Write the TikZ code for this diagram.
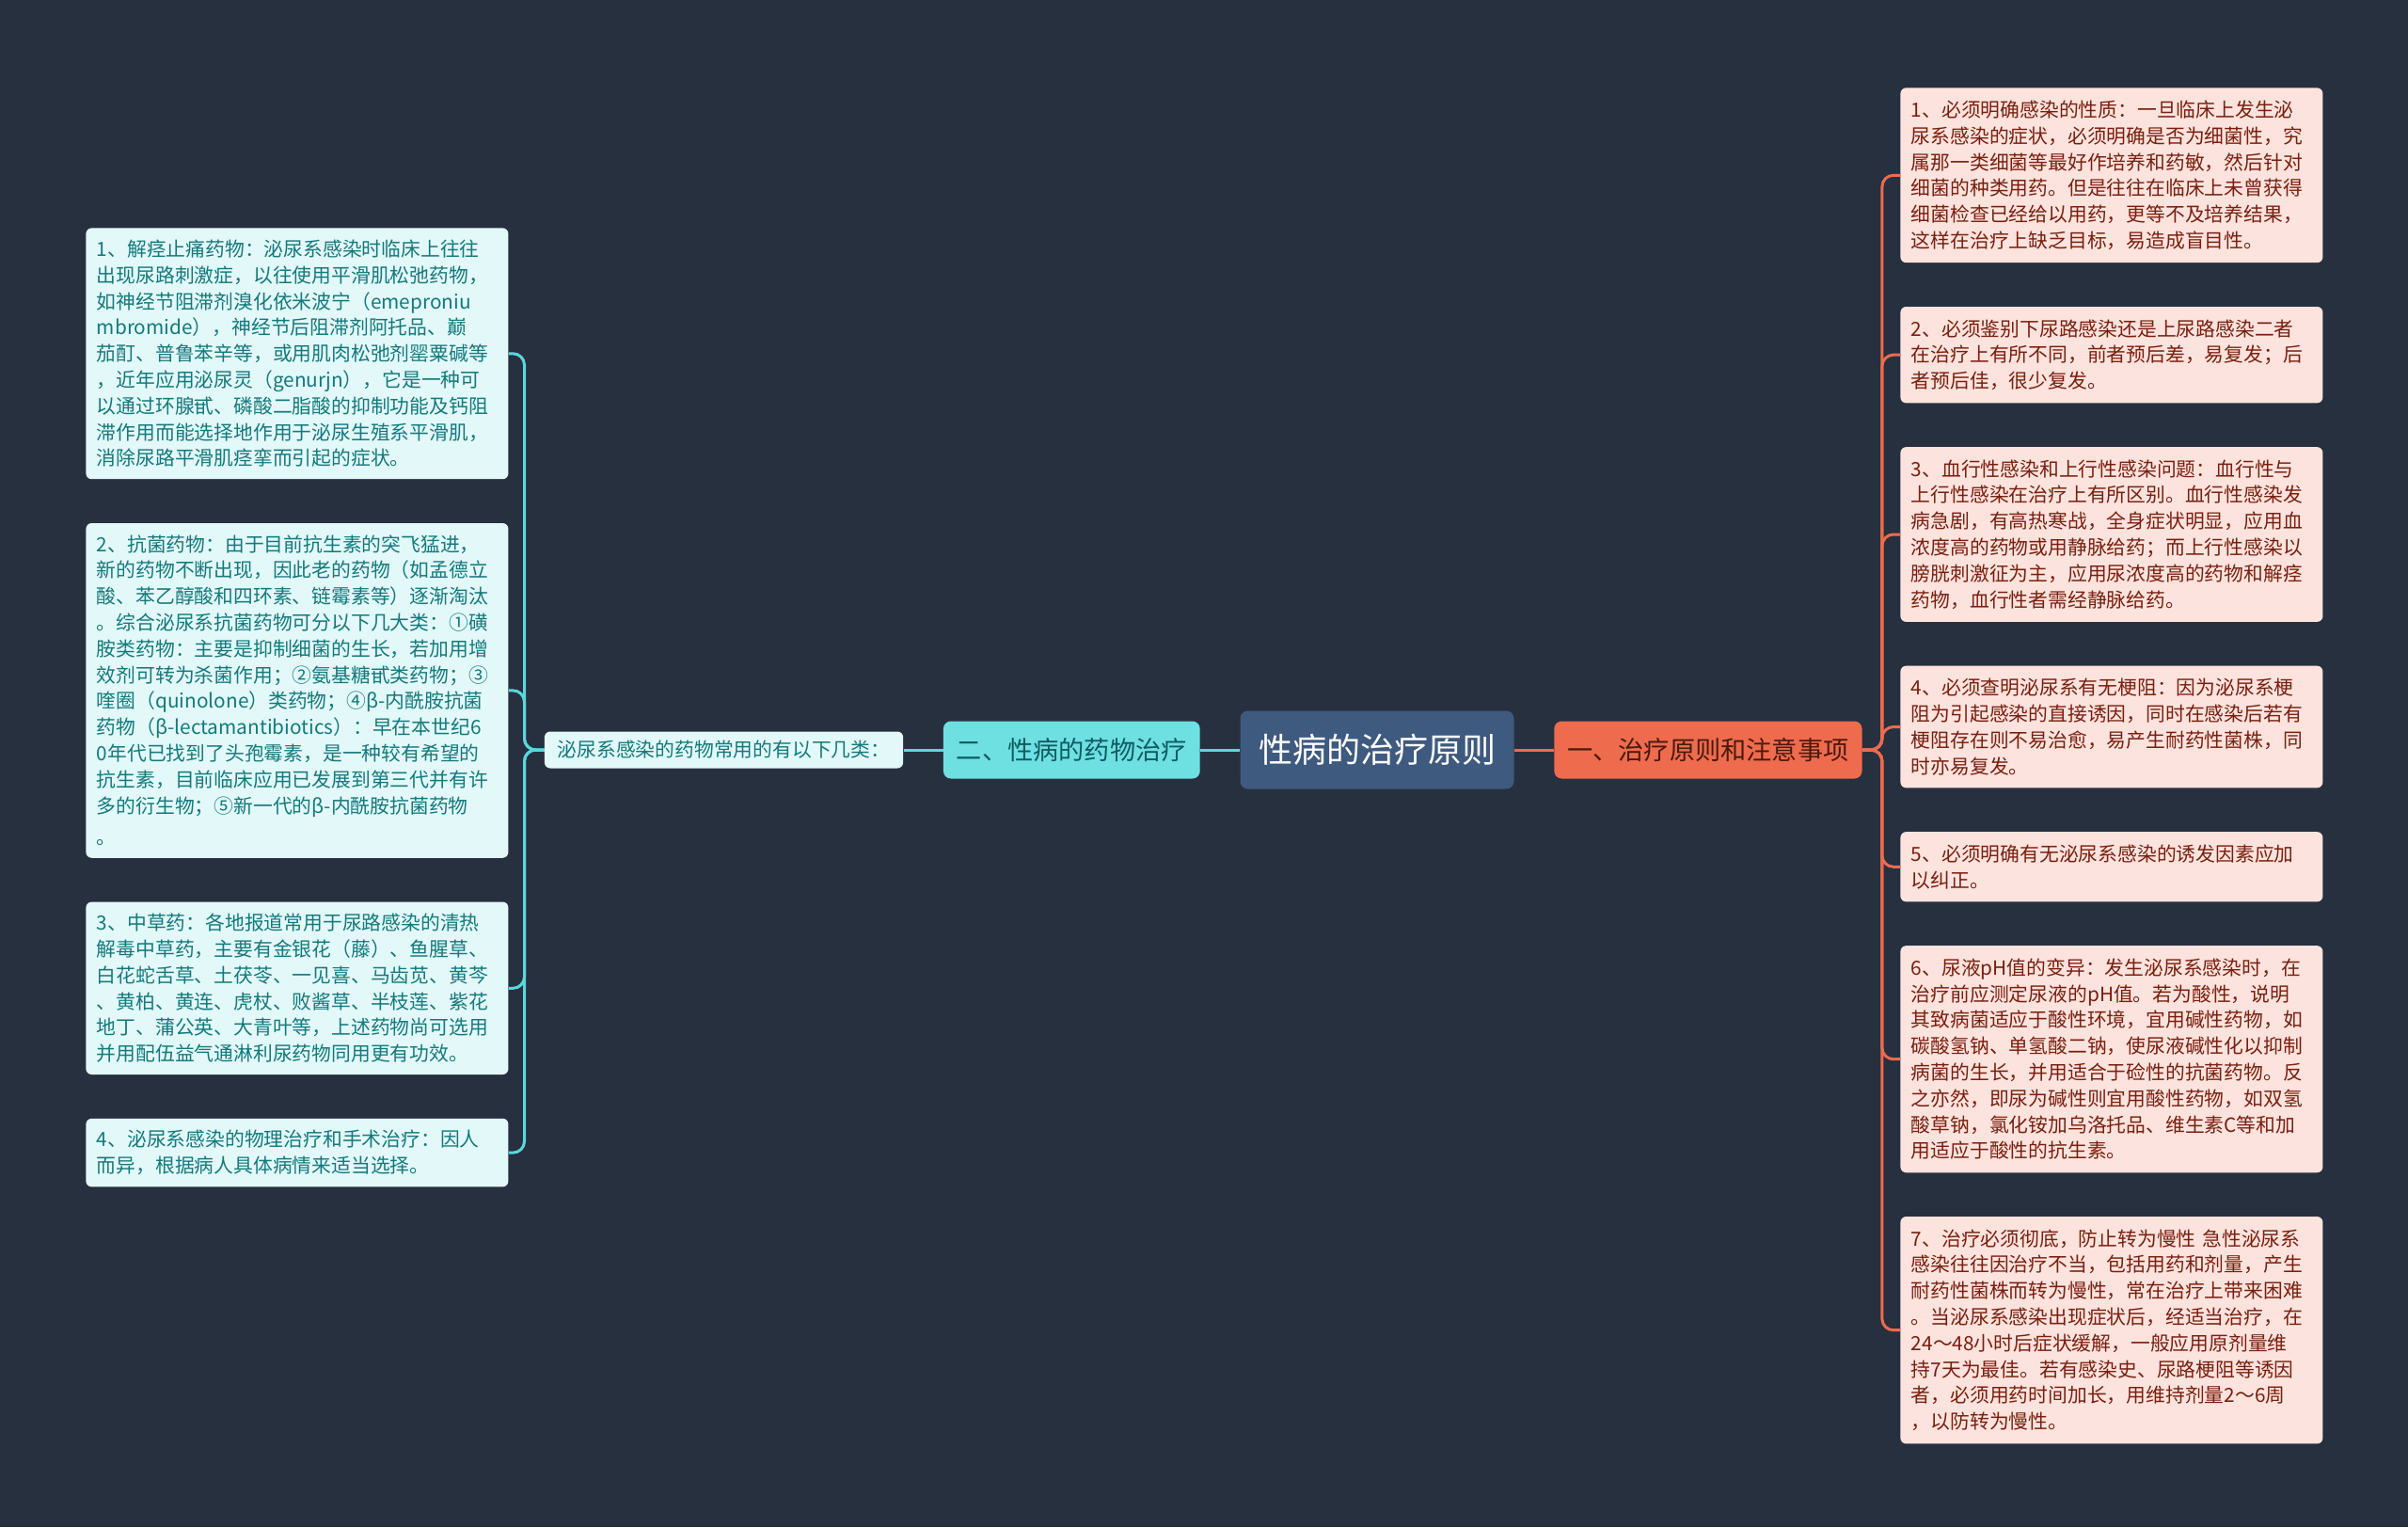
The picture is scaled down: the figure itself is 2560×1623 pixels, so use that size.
\documentclass[tikz,border=0pt]{standalone}
\usepackage{fontspec}
\newfontfamily\cjk{Noto Sans CJK SC}
\usepackage{tikz}
\usetikzlibrary{positioning}
\definecolor{BgNavy}{HTML}{27303F}
\definecolor{RootBlue}{HTML}{3E5A7F}
\definecolor{RuleRed}{HTML}{EE6B4D}
\definecolor{RuleText}{HTML}{4A1A0E}
\definecolor{RuleLeaf}{HTML}{FCE3DD}
\definecolor{RuleLeafText}{HTML}{7A1F10}
\definecolor{DrugCyan}{HTML}{6EE0E2}
\definecolor{DrugText}{HTML}{0E5C62}
\definecolor{DrugLeaf}{HTML}{E3F8F9}
\definecolor{DrugLeafText}{HTML}{137A7C}
\definecolor{DrugLine}{HTML}{5BD6DC}

\begin{document}
\begin{tikzpicture}[x=0.5pt,y=-0.5pt,node distance=21pt]
\tikzstyle{rootbox}=[fill=RootBlue,rounded corners=4pt,text=white,font={\cjk\fontsize{18pt}{22pt}\selectfont},minimum width=145.5pt,minimum height=41.5pt]
\tikzstyle{rulebox}=[fill=RuleRed,rounded corners=4pt,text=RuleText,font={\cjk\fontsize{13.6pt}{16pt}\selectfont},inner xsep=7pt,minimum height=30.5pt]
\tikzstyle{drugbox}=[fill=DrugCyan,rounded corners=4pt,text=DrugText,font={\cjk\fontsize{13.6pt}{16pt}\selectfont},inner xsep=7pt,minimum height=30.5pt]
\tikzstyle{kindbox}=[fill=DrugLeaf,rounded corners=3pt,text=DrugLeafText,font={\cjk\fontsize{10.4pt}{13.9pt}\selectfont},inner xsep=6.9pt,minimum height=19.5pt]
\tikzstyle{rleaf}=[fill=RuleLeaf,rounded corners=3pt,text=RuleLeafText,font={\cjk\fontsize{10.4pt}{13.9pt}\selectfont},align=left,text width=213pt,inner xsep=5.75pt,inner ysep=6.75pt]
\tikzstyle{lleaf}=[fill=DrugLeaf,rounded corners=3pt,text=DrugLeafText,font={\cjk\fontsize{10.4pt}{13.9pt}\selectfont},align=left,text width=213pt,inner xsep=5.75pt,inner ysep=6.25pt]
\tikzstyle{rline}=[draw=RuleRed,line width=1.5pt,rounded corners=6pt]
\tikzstyle{lline}=[draw=DrugLine,line width=1.5pt,rounded corners=6pt]
\fill[BgNavy] (0,0) rectangle (2560,1623);
\useasboundingbox (0,0) rectangle (2560,1623);
\node[rootbox] (root) at (1464,797) {性病的治疗原则};
\node[rulebox,right=21pt of root] (rules) {一、治疗原则和注意事项};
\node[drugbox,left=21pt of root] (drugs) {二、性病的药物治疗};
\node[kindbox,left=21pt of drugs] (kinds) {泌尿系感染的药物常用的有以下几类：};
\node[rleaf,anchor=north west] (r1) at (2020,93) {1、必须明确感染的性质：一旦临床上发生泌\\尿系感染的症状，必须明确是否为细菌性，究\\属那一类细菌等最好作培养和药敏，然后针对\\细菌的种类用药。但是往往在临床上未曾获得\\细菌检查已经给以用药，更等不及培养结果，\\这样在治疗上缺乏目标，易造成盲目性。};
\node[rleaf,below=23pt of r1] (r2) {2、必须鉴别下尿路感染还是上尿路感染二者\\在治疗上有所不同，前者预后差，易复发；后\\者预后佳，很少复发。};
\node[rleaf,below=23pt of r2] (r3) {3、血行性感染和上行性感染问题：血行性与\\上行性感染在治疗上有所区别。血行性感染发\\病急剧，有高热寒战，全身症状明显，应用血\\浓度高的药物或用静脉给药；而上行性感染以\\膀胱刺激征为主，应用尿浓度高的药物和解痉\\药物，血行性者需经静脉给药。};
\node[rleaf,below=23pt of r3] (r4) {4、必须查明泌尿系有无梗阻：因为泌尿系梗\\阻为引起感染的直接诱因，同时在感染后若有\\梗阻存在则不易治愈，易产生耐药性菌株，同\\时亦易复发。};
\node[rleaf,below=23pt of r4] (r5) {5、必须明确有无泌尿系感染的诱发因素应加\\以纠正。};
\node[rleaf,below=23pt of r5] (r6) {6、尿液pH值的变异：发生泌尿系感染时，在\\治疗前应测定尿液的pH值。若为酸性，说明\\其致病菌适应于酸性环境，宜用碱性药物，如\\碳酸氢钠、单氢酸二钠，使尿液碱性化以抑制\\病菌的生长，并用适合于硷性的抗菌药物。反\\之亦然，即尿为碱性则宜用酸性药物，如双氢\\酸草钠，氯化铵加乌洛托品、维生素C等和加\\用适应于酸性的抗生素。};
\node[rleaf,below=23pt of r6] (r7) {7、治疗必须彻底，防止转为慢性 急性泌尿系\\感染往往因治疗不当，包括用药和剂量，产生\\耐药性菌株而转为慢性，常在治疗上带来困难\\。当泌尿系感染出现症状后，经适当治疗，在\\24～48小时后症状缓解，一般应用原剂量维\\持7天为最佳。若有感染史、尿路梗阻等诱因\\者，必须用药时间加长，用维持剂量2～6周\\，以防转为慢性。};
\node[lleaf,anchor=north west] (d1) at (91,242) {1、解痉止痛药物：泌尿系感染时临床上往往\\出现尿路刺激症，以往使用平滑肌松弛药物，\\如神经节阻滞剂溴化依米波宁（emeproniu\\mbromide），神经节后阻滞剂阿托品、巅\\茄酊、普鲁苯辛等，或用肌肉松弛剂罂粟碱等\\，近年应用泌尿灵（genurjn），它是一种可\\以通过环腺甙、磷酸二脂酸的抑制功能及钙阻\\滞作用而能选择地作用于泌尿生殖系平滑肌，\\消除尿路平滑肌痉挛而引起的症状。};
\node[lleaf,below=23pt of d1] (d2) {2、抗菌药物：由于目前抗生素的突飞猛进，\\新的药物不断出现，因此老的药物（如孟德立\\酸、苯乙醇酸和四环素、链霉素等）逐渐淘汰\\。综合泌尿系抗菌药物可分以下几大类：①磺\\胺类药物：主要是抑制细菌的生长，若加用增\\效剂可转为杀菌作用；②氨基糖甙类药物；③\\喹圈（quinolone）类药物；④β-内酰胺抗菌\\药物（β-lectamantibiotics）：早在本世纪6\\0年代已找到了头孢霉素，是一种较有希望的\\抗生素，目前临床应用已发展到第三代并有许\\多的衍生物；⑤新一代的β-内酰胺抗菌药物\\[3pt]。};
\node[lleaf,below=23pt of d2] (d3) {3、中草药：各地报道常用于尿路感染的清热\\解毒中草药，主要有金银花（藤）、鱼腥草、\\白花蛇舌草、土茯苓、一见喜、马齿苋、黄芩\\、黄柏、黄连、虎杖、败酱草、半枝莲、紫花\\地丁、蒲公英、大青叶等，上述药物尚可选用\\并用配伍益气通淋利尿药物同用更有功效。};
\node[lleaf,below=23pt of d3] (d4) {4、泌尿系感染的物理治疗和手术治疗：因人\\而异，根据病人具体病情来适当选择。};
\draw[rline] (root) -- (rules);
\draw[lline] (root) -- (drugs);
\draw[lline] (drugs) -- (kinds);
\foreach \n in {r1,r2,r3,r4,r5,r6,r7}
  \draw[rline] (rules.east) -- ++(10.5pt,0) |- (\n.west);
\foreach \n in {d1,d2,d3,d4}
  \draw[lline] (kinds.west) -- ++(-10.5pt,0) |- (\n.east);
\end{tikzpicture}
\end{document}
